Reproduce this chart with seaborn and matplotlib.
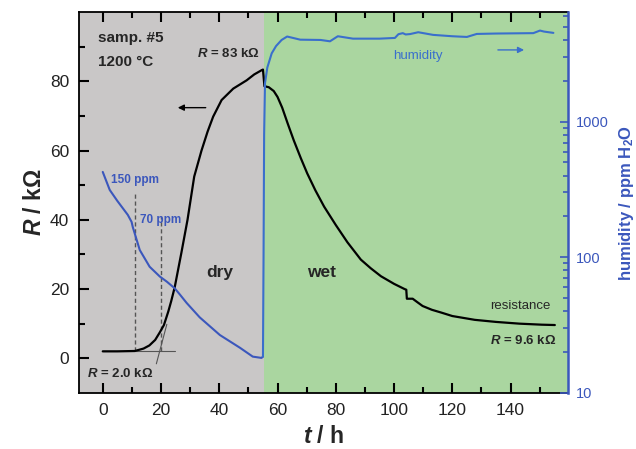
import numpy as np
import pandas as pd
import matplotlib
matplotlib.use("Agg")
import matplotlib.pyplot as plt
import seaborn as sns
from matplotlib.ticker import (MultipleLocator, FixedLocator, LogLocator,
                               FuncFormatter, NullFormatter)

# resistance, dry part (t in h, R in kOhm)
t_dry = [0, 5, 11, 14, 16, 18, 19.6, 21, 22.5, 23.5, 24.7, 27, 29.1, 31.4, 33.9,
         36, 37.9, 40.8, 44.8, 49.4, 52, 54.5, 55.0]
r_dry = [2.0, 2.0, 2.1, 2.8, 3.7, 5.3, 7.5, 9.6, 13.5, 16.5, 20.5, 30.5, 40, 52.5, 60,
         65.5, 69.8, 74.6, 77.9, 80.3, 82.0, 83.2, 83.4]

# resistance, wet part
t_wet = [55.0, 55.5, 57, 58.7, 60, 61.6, 63.5, 65.6, 68, 70.2, 73, 76, 80, 84, 88.6,
         92, 95.5, 100, 103.6, 104.2, 104.4, 106.4, 108, 109.8, 113, 116.2, 120,
         127.7, 135, 143, 150.7, 155.2]
r_wet = [83.4, 78.6, 78.3, 77.2, 75.5, 72.4, 67.8, 62.9, 57.8, 53.4, 48.5, 43.8, 38.5,
         33.5, 28.5, 26.0, 23.7, 21.5, 20.0, 19.8, 17.2, 17.2, 16.2, 15.1, 14.0, 13.2,
         12.2, 11.1, 10.5, 10.0, 9.7, 9.6]

# humidity in ppm H2O, dry phase
t_hum_dry = [0, 2.4, 5, 8.6, 9.9, 10.3, 12.7, 16.1, 19.6, 22, 24.7, 26.5, 28.8, 33.3,
             40.2, 47.1, 51.5, 54.5, 55.0]
hum_dry = [425, 313, 260, 205, 182, 167, 113, 85, 72, 66, 59, 53, 46, 36,
           26.7, 21.5, 18.5, 18.1, 18.5]

# humidity in ppm H2O, wet phase
t_hum_wet = [55.0, 55.2, 55.4, 55.7, 56.5, 58, 59.5, 61.4, 63.3, 67.8, 74.8, 78, 80.7,
             85.9, 95, 100.3, 101.5, 103, 104, 105.5, 108.3, 113.4, 120, 125, 128.4,
             135, 147.8, 150.1, 151.5, 154.7]
hum_wet = [18.5, 100, 800, 1920, 2500, 3180, 3600, 3990, 4230, 4010, 3990, 3900, 4250,
           4080, 4080, 4130, 4400, 4480, 4380, 4410, 4550, 4350, 4250, 4200, 4420,
           4450, 4480, 4680, 4600, 4500]

t_switch = 55.2
ppm_marks = [11, 20]
ppm_labels = ["150 ppm", "70 ppm"]
r_ticks = [0, 20, 40, 60, 80]

gray_bg = "#c9c7c7"
green_bg = "#aad6a0"
blue = "#3b57bc"
blue_light = "#3a6fcc"

sns.set_style("ticks")
plt.rcParams["font.family"] = ["Liberation Sans", "DejaVu Sans"]
plt.rcParams["mathtext.fontset"] = "custom"
plt.rcParams["mathtext.it"] = "Liberation Sans:italic:bold"
plt.rcParams["mathtext.rm"] = "Liberation Sans:bold"
plt.rcParams["mathtext.bf"] = "Liberation Sans:bold"

fig, ax = plt.subplots(figsize=(6.36, 4.49), dpi=100)
fig.subplots_adjust(left=0.124, right=0.893, bottom=0.125, top=0.973)
ax.set_axisbelow(False)

ax.set_xlim(-8.2, 159.7)
ax.set_ylim(-10, 100)
ax.axvspan(-8.2, t_switch, color=gray_bg, lw=0, zorder=-5)
ax.axvspan(t_switch, 159.7, color=green_bg, lw=0, zorder=-5)

df_r = pd.DataFrame({"t": t_dry + t_wet, "R": r_dry + r_wet})
sns.lineplot(data=df_r, x="t", y="R", ax=ax, color="black", lw=1.6,
             sort=False, estimator=None, zorder=3)

# onset construction
ax.plot([0, 24.7], [2.0, 2.0], color="#555555", lw=0.8, zorder=2)
ax.plot([18.4, 22.0], [-1.6, 9.8], color="#555555", lw=0.8, zorder=2)
ax.plot([ppm_marks[0]] * 2, [2.0, 48], color="#555555", lw=1, ls=(0, (3, 2)), zorder=2)
ax.plot([ppm_marks[1]] * 2, [2.0, 41], color="#555555", lw=1, ls=(0, (3, 2)), zorder=2)

ax.xaxis.set_major_locator(MultipleLocator(20))
ax.xaxis.set_minor_locator(MultipleLocator(10))
ax.yaxis.set_major_locator(FixedLocator(r_ticks))
ax.yaxis.set_minor_locator(FixedLocator([10, 30, 50, 70, 90]))
ax.tick_params(which="both", direction="in", top=True, right=False, width=1.5,
               color="black", labelsize=12.5, labelcolor="#222222", pad=7)
ax.tick_params(which="major", length=7)
ax.tick_params(which="minor", length=4)
for s in ["left", "top", "bottom"]:
    ax.spines[s].set_linewidth(1.3)
    ax.spines[s].set_color("black")
ax.spines["right"].set_visible(False)

ax.set_xlabel("$t$ / h", fontsize=16.5, fontweight="bold", labelpad=5)
ax.set_ylabel("$R$ / kΩ", fontsize=16.5, fontweight="bold", labelpad=3)

ax2 = ax.twinx()
sns.lineplot(x=t_hum_dry, y=hum_dry, ax=ax2, color=blue, lw=1.5,
             sort=False, estimator=None)
sns.lineplot(x=t_hum_wet, y=hum_wet, ax=ax2, color=blue_light, lw=1.5,
             sort=False, estimator=None)
ax2.set_yscale("log")
ax2.set_ylim(10, 6400)
ax2.yaxis.set_major_locator(LogLocator(base=10))
ax2.yaxis.set_minor_locator(LogLocator(base=10, subs=np.arange(2, 10)))
ax2.yaxis.set_major_formatter(FuncFormatter(lambda v, p: f"{v:g}"))
ax2.yaxis.set_minor_formatter(NullFormatter())
ax2.tick_params(axis="y", which="both", direction="in", colors=blue, width=1.2,
                labelsize=10.5, pad=6)
ax2.tick_params(axis="y", which="major", length=6)
ax2.tick_params(axis="y", which="minor", length=3.5)
ax2.spines["right"].set_color(blue)
ax2.spines["right"].set_linewidth(1.8)
for s in ["left", "top", "bottom"]:
    ax2.spines[s].set_visible(False)
ax2.set_ylabel("humidity / ppm H$_2$O", fontsize=12, fontweight="bold",
               color=blue, labelpad=6)

# annotations
ax.text(-1.6, 92.4, "samp. #5", fontsize=11, fontweight="bold", va="center")
ax.text(-1.6, 85.5, "1200 °C", fontsize=11, fontweight="bold", va="center")
ax.text(53.9, 88, "$R$ = 83 kΩ", fontsize=9.5, fontweight="bold", ha="right", va="center")
ax.text(3.0, 51.6, ppm_labels[0], fontsize=8.5, fontweight="bold", color=blue, va="center")
ax.text(12.7, 40, ppm_labels[1], fontsize=8.5, fontweight="bold", color=blue, va="center")
ax.text(40.2, 24.9, "dry", fontsize=12.5, fontweight="bold", ha="center", va="center")
ax.text(75, 24.9, "wet", fontsize=12.5, fontweight="bold", ha="center", va="center")
ax.text(-5.4, -4.5, "$R$ = 2.0 kΩ", fontsize=9.5, fontweight="bold", va="center")
ax.text(143.2, 15.1, "resistance", fontsize=9.5, ha="center", va="center")
ax.text(155.6, 5.0, "$R$ = 9.6 kΩ", fontsize=9.5, fontweight="bold", ha="right", va="center")
ax2.text(108.2, 3040, "humidity", fontsize=9.5, color=blue_light, ha="center", va="center")

ax.annotate("", xy=(24.8, 72.4), xytext=(36.3, 72.4),
            arrowprops=dict(arrowstyle="-|>", color="black", lw=1, mutation_scale=9))
ax2.annotate("", xy=(145.6, 3370), xytext=(134.7, 3370),
             arrowprops=dict(arrowstyle="-|>", color=blue_light, lw=1, mutation_scale=9))

fig.savefig("out.png", dpi=100)
